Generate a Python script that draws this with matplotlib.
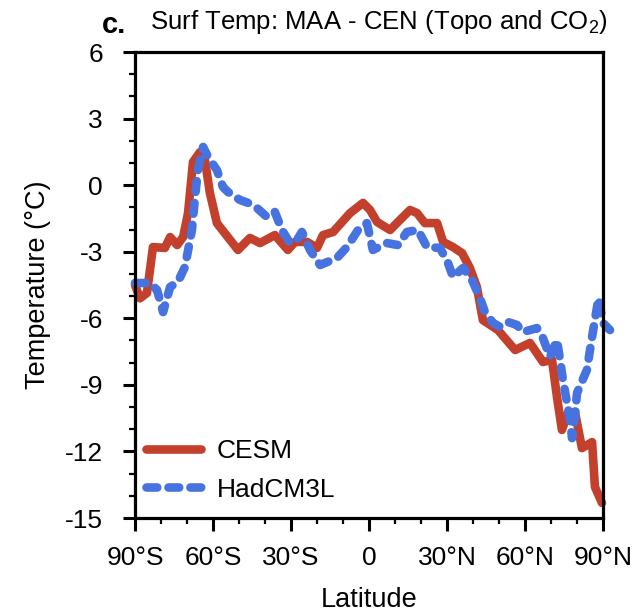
import matplotlib
matplotlib.use("Agg")
import matplotlib.pyplot as plt
from matplotlib.ticker import MultipleLocator, FixedLocator

plt.rcParams["font.family"] = ["Liberation Sans", "DejaVu Sans"]
plt.rcParams["mathtext.fontset"] = "custom"
plt.rcParams["mathtext.rm"] = "Liberation Sans"
plt.rcParams["axes.unicode_minus"] = False

# zonal mean surface temperature difference
cesm_lat = [-90, -88.1, -85.4, -83.1, -78.5, -76.5, -73.8, -71.5, -69.6, -67.7,
            -65.0, -63.1, -61.2, -58.5, -50.4, -45.8, -41.9, -36.2, -31.2, -28.5,
            -23.8, -20.0, -17.7, -13.8, -7.3, -2.3, 0.4, 3.1, 8.1, 11.9,
            15.8, 18.5, 21.5, 26.2, 28.5, 32.3, 35.8, 38.8, 41.5, 43.8,
            49.6, 56.2, 61.9, 66.9, 70.4, 72.3, 74.2, 76.5, 79.2, 81.9,
            85.8, 86.9, 89.6]
cesm_temp = [-4.5, -5.1, -4.86, -2.79, -2.83, -2.34, -2.7, -2.34, -1.26, 1.04,
             1.49, 1.13, -0.35, -1.71, -2.92, -2.38, -2.61, -2.25, -2.92, -2.56,
             -2.56, -2.83, -2.25, -2.11, -1.26, -0.8, -1.12, -1.66, -2.02, -1.57,
             -1.12, -1.26, -1.71, -1.71, -2.56, -2.79, -3.06, -3.73, -4.59, -6.08,
             -6.53, -7.43, -7.11, -7.97, -7.88, -9.55, -11.03, -10.27, -10.22, -11.85,
             -11.58, -13.6, -14.32]

had_lat = [-90, -84.2, -81.5, -79.2, -76.5, -73.5, -70.8, -68.1, -66.9, -65.8,
           -63.8, -61.9, -58.5, -56.2, -54.2, -49.6, -46.5, -43.1, -39.2, -36.2,
           -33.5, -30.4, -27.7, -25.8, -22.7, -18.8, -12.3, -8.5, -4.2, -0.8,
           1.5, 6.9, 11.2, 14.6, 18.8, 22.3, 27.3, 30.4, 32.3, 36.2,
           39.6, 42.7, 44.6, 47.7, 50.4, 53.5, 56.9, 59.2, 64.6, 66.9,
           69.6, 72.3, 73.5, 74.6, 76.2, 77.3, 78.1, 79.2, 80.0, 83.8,
           85.8, 87.7, 88.3, 90.0, 92.7]
had_temp = [-4.41, -4.41, -4.73, -5.72, -4.59, -4.36, -3.69, -2.02, -0.53, 0.68,
            1.72, 1.27, 0.68, -0.08, -0.31, -0.67, -0.8, -1.03, -1.44, -1.21,
            -2.02, -2.61, -2.47, -2.11, -2.92, -3.6, -3.28, -2.79, -2.02, -1.71,
            -2.92, -2.61, -2.7, -2.11, -2.02, -2.79, -2.83, -3.51, -4.14, -3.73,
            -4.27, -5.09, -5.72, -6.21, -6.39, -6.17, -6.3, -6.62, -6.44, -6.89,
            -7.74, -6.98, -7.88, -8.78, -9.82, -10.58, -11.4, -10.45, -9.37, -8.33,
            -6.84, -5.49, -5.09, -6.21, -6.53]

lat_ticks = [-90, -60, -30, 0, 30, 60, 90]
lat_labels = ["90°S", "60°S", "30°S", "0", "30°N", "60°N", "90°N"]
temp_ticks = [6, 3, 0, -3, -6, -9, -12, -15]

RED = "#C3412C"
BLUE = "#4673E0"

fig = plt.figure(figsize=(6.34, 6.13), dpi=100)
ax = fig.add_axes([135 / 634, 1 - 518 / 613, 468 / 634, 466 / 613])

ax.plot(cesm_lat, cesm_temp, color=RED, lw=6.2, label="CESM",
        solid_joinstyle="round", solid_capstyle="round", clip_on=False)
ax.plot(had_lat, had_temp, color=BLUE, lw=6.2, label="HadCM3L",
        linestyle=(0, (1.25, 1.3)), dash_capstyle="round", dash_joinstyle="round",
        clip_on=False)

ax.set_xlim(-90, 90)
ax.set_ylim(-15, 6)
ax.xaxis.set_major_locator(FixedLocator(lat_ticks))
ax.set_xticklabels(lat_labels)
ax.xaxis.set_minor_locator(MultipleLocator(10))
ax.yaxis.set_major_locator(FixedLocator(temp_ticks))
ax.set_yticklabels([str(t) for t in temp_ticks])
ax.yaxis.set_minor_locator(MultipleLocator(1))

for s in ax.spines.values():
    s.set_linewidth(2.3)
ax.tick_params(which="major", direction="out", length=9, width=2.2, labelsize=19)
ax.tick_params(axis="y", which="major", pad=14)
ax.tick_params(axis="x", which="major", pad=11)
ax.tick_params(which="minor", direction="out", length=4.5, width=1.6)

ax.set_xlabel("Latitude", fontsize=19.5, va="top")
ax.xaxis.set_label_coords(0.5, -0.148)
ax.set_ylabel("Temperature (°C)", fontsize=19.5)
ax.yaxis.set_label_coords(-0.18, 0.5)

ax.legend(loc="lower left", bbox_to_anchor=(0.024, 0.035), frameon=False,
          fontsize=19, handlelength=2.07, handletextpad=0.6, labelspacing=0.55,
          borderpad=0, borderaxespad=0)

fig.text(102 / 634, 1 - 33 / 613, "c.", fontsize=21, fontweight="bold", va="baseline")
fig.text(150 / 634, 1 - 29 / 613, "Surf Temp: MAA - CEN (Topo and CO$_2$)",
         fontsize=18.5, va="baseline")

fig.savefig("out.png", dpi=100)
